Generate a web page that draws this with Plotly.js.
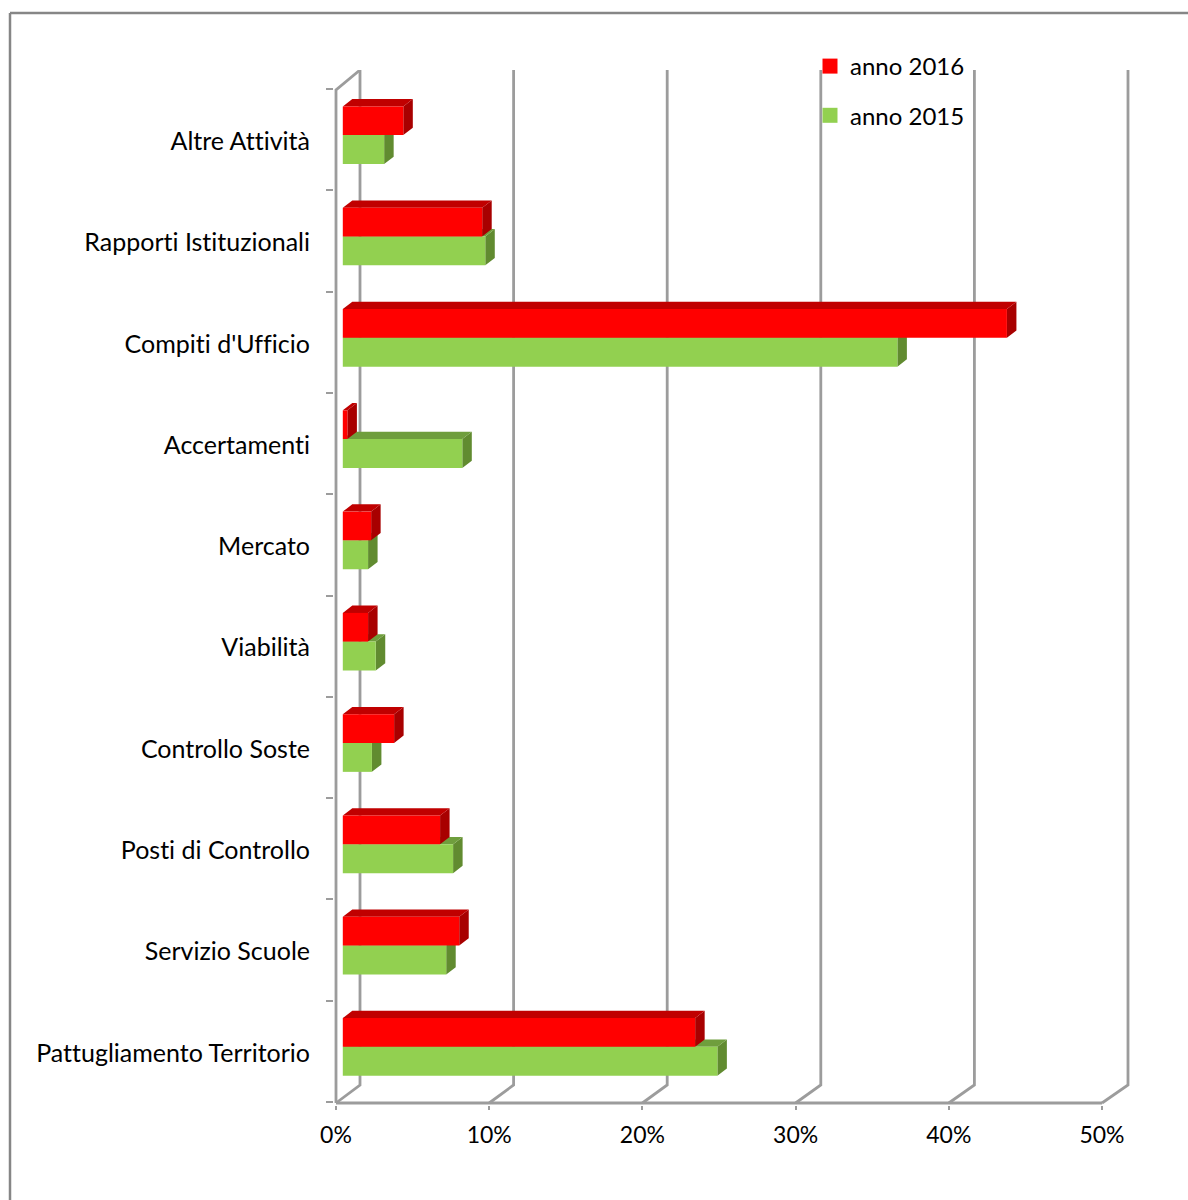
<!DOCTYPE html>
<html>
<head>
<meta charset="utf-8">
<script src="https://cdn.plot.ly/plotly-3.0.1.min.js"></script>
<style>html,body{margin:0;padding:0;background:#fff} svg text{font-variant-ligatures:none !important;font-feature-settings:"liga" 0,"clig" 0 !important}</style>
</head>
<body>
<div id="chart" style="width:1188px;height:1200px"></div>
<script>
// Data, bottom category first
const categories = ["Pattugliamento Territorio","Servizio Scuole","Posti di Controllo","Controllo Soste","Viabilità","Mercato","Accertamenti","Compiti d'Ufficio","Rapporti Istituzionali","Altre Attività"];
const anno2016 = [23.0,7.6,6.35,3.35,1.65,1.85,0.3,43.35,9.1,3.95];
const anno2015 = [24.45,6.75,7.2,1.9,2.15,1.65,7.8,36.2,9.3,2.7];
const xTicks = [0,10,20,30,40,50];

// Chart frame in page pixels
const W = 1188, H = 1200;
const zeroPx = 336, floorPx = 1103, backPx = 70;
const plotL = 334, plotR = 1132, plotT = backPx, plotB = 1105;
const pxPerPct = 15.32, pxPerCat = 101.3;
const xMin = (plotL - zeroPx) / pxPerPct, xMax = (plotR - zeroPx) / pxPerPct;
const yFloor = -0.5 - 1 / pxPerCat;
const yRangeMin = yFloor - (plotB - floorPx) / pxPerCat;
const yBack = yFloor + (floorPx - backPx) / pxPerCat;
const yTopFront = categories.length - 0.5 - 1 / pxPerCat;

// Depth of the pseudo 3D box and of the bars, in axis units
const wallDx = 24 / pxPerPct, wallScale = 15.36 / pxPerPct, wallDy = 18 / pxPerCat;
const barBase = 6.8 / pxPerPct;
const barDx = 9.5 / pxPerPct, barDy = 7.3 / pxPerCat;
const redOffset = 0.045, redWidth = 0.283;
const greenOffset = -0.241, greenWidth = 0.286;
const labelShift = 1.5 / pxPerCat;

const grey = '#9c9c9c', lineW = 2.8;

function faces(values, offset, width) {
  const top = {x: [], y: []}, side = {x: [], y: []};
  values.forEach((v, i) => {
    const yT = i + offset + width, yB = i + offset, x0 = barBase, x1 = barBase + v;
    top.x.push(x0, x0 + barDx, x1 + barDx, x1, x0, null);
    top.y.push(yT, yT + barDy, yT + barDy, yT, yT, null);
    side.x.push(x1, x1 + barDx, x1 + barDx, x1, x1, null);
    side.y.push(yT, yT + barDy, yB + barDy, yB, yT, null);
  });
  return {top, side};
}
function poly(f, color) {
  return {type: 'scatter', mode: 'lines', x: f.x, y: f.y, fill: 'toself', fillcolor: color,
    line: {width: 0, color: color}, hoverinfo: 'skip', showlegend: false, cliponaxis: false};
}

// Box: walls, floor edges and back grid lines
const boxX = [], boxY = [];
xTicks.forEach(t => {
  const back = t * wallScale + wallDx;
  boxX.push(t, back, back, null);
  boxY.push(yFloor, yFloor + wallDy, yBack, null);
});
boxX.push(xTicks[0], xTicks[xTicks.length - 1], null);
boxY.push(yFloor, yFloor, null);
boxX.push(0, 0, wallDx);
boxY.push(yFloor, yTopFront, yBack);

const red = faces(anno2016, redOffset, redWidth);
const green = faces(anno2015, greenOffset, greenWidth);
const yIdx = categories.map((c, i) => i);

const data = [
  {type: 'scatter', mode: 'lines', x: boxX, y: boxY, line: {color: grey, width: lineW},
   hoverinfo: 'skip', showlegend: false, cliponaxis: false, connectgaps: false},
  poly(green.side, '#618B30'), poly(green.top, '#6F9E3D'),
  poly(red.side, '#A80000'), poly(red.top, '#C00000'),
  {type: 'bar', orientation: 'h', name: 'anno 2015', x: anno2015, y: yIdx, base: barBase,
   width: greenWidth, offset: greenOffset, marker: {color: '#92D050', line: {width: 0}},
   xaxis: 'x2', yaxis: 'y2', showlegend: false},
  {type: 'bar', orientation: 'h', name: 'anno 2016', x: anno2016, y: yIdx, base: barBase,
   width: redWidth, offset: redOffset, marker: {color: '#FF0000', line: {width: 0}},
   xaxis: 'x2', yaxis: 'y2', showlegend: false},
  {type: 'scatter', mode: 'markers', name: 'anno 2016', x: [null], y: [null], legendgroup: 'a',
   marker: {symbol: 'square', size: 15, color: '#FF0000'}},
  {type: 'scatter', mode: 'markers', name: 'anno 2015', x: [null], y: [null], legendgroup: 'b',
   marker: {symbol: 'square', size: 15, color: '#92D050'}}
];

const fontFamily = 'Lato, "Open Sans", sans-serif';
const pxX = p => (p - plotL) / (plotR - plotL);
const pxY = p => (plotB - p) / (plotB - plotT);
const frame = {type: 'line', xref: 'paper', yref: 'paper', line: {color: '#868686', width: 2.5}};

const layout = {
  width: W, height: H,
  margin: {l: plotL, r: W - plotR, t: plotT, b: H - plotB, pad: 0},
  paper_bgcolor: '#fff', plot_bgcolor: 'rgba(0,0,0,0)',
  font: {family: fontFamily, size: 24, color: '#000'},
  barmode: 'overlay',
  showlegend: true,
  legend: {x: pxX(810), y: pxY(44), xanchor: 'left', yanchor: 'top', bgcolor: 'rgba(0,0,0,0)',
    traceorder: 'grouped', tracegroupgap: 15, itemwidth: 30, font: {family: fontFamily, size: 24}},
  xaxis: {range: [xMin, xMax], tickmode: 'array', tickvals: xTicks, ticktext: xTicks.map(t => t + '%'),
    ticks: 'outside', ticklen: 4, tickwidth: 2, tickcolor: grey, showgrid: false, zeroline: false,
    showline: false, ticklabelstandoff: 5, tickfont: {family: fontFamily, size: 23}},
  yaxis: {range: [yRangeMin, yBack], tickmode: 'array', tickvals: yIdx.map(i => i - labelShift), ticktext: categories,
    ticks: '', showgrid: false, zeroline: false, showline: false, ticklabelstandoff: 23,
    tickfont: {family: fontFamily, size: 25},
    minor: {tickmode: 'linear', tick0: 0.5, dtick: 1, ticks: 'outside', ticklen: 7, tickwidth: 2, tickcolor: grey, showgrid: false}},
  xaxis2: {overlaying: 'x', matches: 'x', visible: false},
  yaxis2: {overlaying: 'y', matches: 'y', visible: false},
  shapes: [
    Object.assign({}, frame, {x0: pxX(10), x1: pxX(W), y0: pxY(13), y1: pxY(13)}),
    Object.assign({}, frame, {x0: pxX(10), x1: pxX(10), y0: pxY(13), y1: pxY(H)})
  ]
};
Plotly.newPlot('chart', data, layout, {displayModeBar: false, staticPlot: true});
</script>
</body>
</html>
